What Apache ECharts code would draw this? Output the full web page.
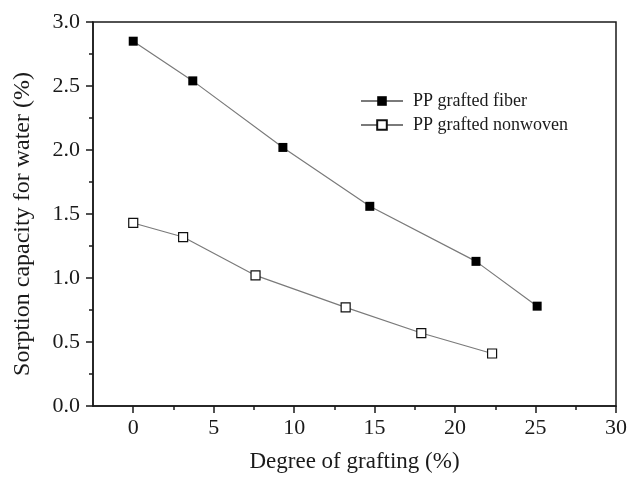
<!DOCTYPE html>
<html>
<head>
<meta charset="utf-8">
<script src="https://cdn.jsdelivr.net/npm/echarts@6/dist/echarts.min.js"></script>
<style>html,body{margin:0;padding:0;background:#fff;}#c{width:630px;height:478px;}</style>
</head>
<body>
<div id="c"></div>
<script>
var fiberX = [0, 3.7, 9.3, 14.7, 21.3, 25.1];
var fiberY = [2.85, 2.54, 2.02, 1.56, 1.13, 0.78];
var nonwovenX = [0, 3.1, 7.6, 13.2, 17.9, 22.3];
var nonwovenY = [1.43, 1.32, 1.02, 0.77, 0.57, 0.41];
var xTicks = [0, 5, 10, 15, 20, 25, 30];
var xMinorTicks = [2.5, 7.5, 12.5, 17.5, 22.5, 27.5];
var yTicks = [0, 0.5, 1.0, 1.5, 2.0, 2.5, 3.0];
var yMinorTicks = [0.25, 0.75, 1.25, 1.75, 2.25, 2.75];
var seriesNames = ['PP grafted fiber', 'PP grafted nonwoven'];
var xTitle = 'Degree of grafting (%)';
var yTitle = 'Sorption capacity for water (%)';

function pairs(xs, ys) { return xs.map(function (x, i) { return [x, ys[i]]; }); }

var font = 'Liberation Serif';
var ink = '#1a1a1a';
var chart = echarts.init(document.getElementById('c'), null, {renderer: 'canvas'});
chart.setOption({
  animation: false,
  backgroundColor: '#fff',
  grid: {left: 93, top: 22, right: 12, bottom: 66, show: true, borderColor: ink, borderWidth: 1.5, backgroundColor: 'transparent'},
  legend: {
    orient: 'vertical', left: 355, top: 87, itemWidth: 42, itemHeight: 12, itemGap: 6,
    textStyle: {fontFamily: font, fontSize: 18, color: ink, padding: [0, 0, 0, 5]},
    data: seriesNames
  },
  xAxis: [{
    type: 'value', min: -2.5, max: 30,
    name: xTitle, nameLocation: 'middle', nameGap: 44,
    nameTextStyle: {fontFamily: font, fontSize: 23, color: ink},
    axisLine: {show: true, onZero: false, lineStyle: {color: ink, width: 1.5}},
    axisTick: {show: true, inside: false, length: 7, customValues: xTicks, lineStyle: {color: ink, width: 1.5}},
    axisLabel: {show: true, margin: 11, customValues: xTicks, fontFamily: font, fontSize: 22, color: ink},
    splitLine: {show: false}
  }, {
    type: 'value', min: -2.5, max: 30, position: 'bottom', gridIndex: 0,
    axisLine: {show: false, onZero: false},
    axisTick: {show: true, inside: false, length: 4, customValues: xMinorTicks, lineStyle: {color: ink, width: 1.5}},
    axisLabel: {show: false},
    splitLine: {show: false}
  }],
  yAxis: [{
    type: 'value', min: 0, max: 3, interval: 0.5,
    name: yTitle, nameLocation: 'middle', nameGap: 58,
    nameTextStyle: {fontFamily: font, fontSize: 24, color: ink, padding: [0, 20, 0, 0]},
    axisLine: {show: true, onZero: false, lineStyle: {color: ink, width: 1.5}},
    axisTick: {show: true, inside: false, length: 7, customValues: yTicks, lineStyle: {color: ink, width: 1.5}},
    axisLabel: {show: true, margin: 13, customValues: yTicks, fontFamily: font, fontSize: 22, color: ink,
      formatter: function (v) { return v.toFixed(1); }},
    splitLine: {show: false}
  }, {
    type: 'value', min: 0, max: 3, position: 'left',
    axisLine: {show: false, onZero: false},
    axisTick: {show: true, inside: false, length: 4, customValues: yMinorTicks, lineStyle: {color: ink, width: 1.5}},
    axisLabel: {show: false},
    splitLine: {show: false}
  }],
  series: [{
    name: seriesNames[0], type: 'line', xAxisIndex: 0, yAxisIndex: 0,
    data: pairs(fiberX, fiberY),
    symbol: 'rect', symbolSize: 9,
    lineStyle: {color: '#7a7a7a', width: 1.2},
    itemStyle: {color: '#000', borderColor: '#000', borderWidth: 0}
  }, {
    name: seriesNames[1], type: 'line', xAxisIndex: 0, yAxisIndex: 0,
    data: pairs(nonwovenX, nonwovenY),
    symbol: 'rect', symbolSize: 9,
    lineStyle: {color: '#7a7a7a', width: 1.2},
    itemStyle: {color: '#fff', borderColor: '#111', borderWidth: 1.2}
  }]
});
</script>
</body>
</html>
